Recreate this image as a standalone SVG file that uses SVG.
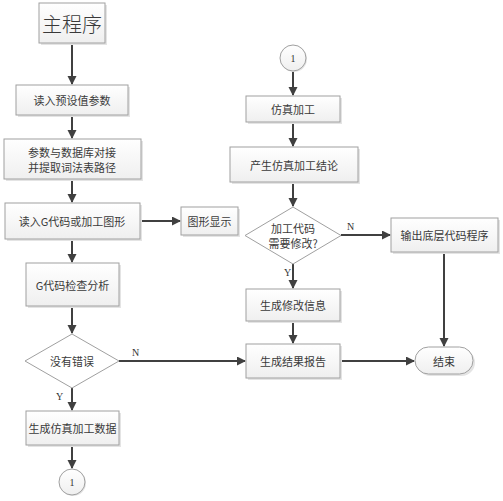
<svg xmlns="http://www.w3.org/2000/svg" width="503" height="501" viewBox="0 0 503 501">
<style>
.box{fill:url(#g);stroke:#a0a0a0;stroke-width:1}
.sh{fill:#e4e4e4}
.t{font-family:"Noto Sans CJK SC","Liberation Serif",serif;font-size:11px;fill:#3a3a3a;text-anchor:middle;dominant-baseline:central}
.lab{font-family:"Liberation Serif",serif;font-size:10px;fill:#333}
.c{stroke:#404040;stroke-width:2;fill:none;marker-end:url(#a)}
</style>
<defs>
<linearGradient id="g" x1="0" y1="0" x2="0" y2="1"><stop offset="0" stop-color="#ffffff"/><stop offset="1" stop-color="#efefef"/></linearGradient>
<marker id="a" markerWidth="10" markerHeight="10" refX="8" refY="4.5" orient="auto" markerUnits="userSpaceOnUse"><path d="M0,0 L9,4.5 L0,9 Z" fill="#404040"/></marker>
</defs>
<rect width="503" height="501" fill="#fff"/>
<g id="connectors">
<line class="c" x1="72" y1="43" x2="72" y2="84"/>
<line class="c" x1="72" y1="115" x2="72" y2="138"/>
<line class="c" x1="72" y1="179" x2="72" y2="202"/>
<line class="c" x1="140" y1="221" x2="180" y2="221"/>
<line class="c" x1="72" y1="239" x2="72" y2="262"/>
<line class="c" x1="72" y1="306" x2="72" y2="333"/>
<line class="c" x1="119" y1="361" x2="245" y2="361"/>
<line class="c" x1="72" y1="388" x2="72" y2="410"/>
<line class="c" x1="72" y1="445" x2="72" y2="468"/>
<line class="c" x1="293" y1="72" x2="293" y2="95"/>
<line class="c" x1="293" y1="122" x2="293" y2="146"/>
<line class="c" x1="293" y1="182" x2="293" y2="206"/>
<line class="c" x1="341" y1="235" x2="390" y2="235"/>
<line class="c" x1="293" y1="264" x2="293" y2="288"/>
<line class="c" x1="293" y1="321" x2="293" y2="343"/>
<line class="c" x1="340" y1="361" x2="414" y2="361"/>
<line class="c" x1="444" y1="252" x2="444" y2="346"/>
<text class="lab" x="132" y="356">N</text>
<text class="lab" x="56" y="400">Y</text>
<text class="lab" x="347" y="230">N</text>
<text class="lab" x="284" y="276">Y</text>
</g>
<g id="main">
<rect class="sh" x="41" y="5" width="66" height="40"/>
<rect class="box" x="39" y="3" width="66" height="40"/>
<text class="t" x="72" y="23" style="font-size:20px;font-weight:300">主程序</text>
</g>
<g id="read-preset">
<rect class="sh" x="18" y="87" width="112" height="30"/>
<rect class="box" x="16" y="85" width="112" height="30"/>
<text class="t" x="72" y="100">读入预设值参数</text>
</g>
<g id="db">
<rect class="sh" x="6" y="141" width="137" height="40"/>
<rect class="box" x="4" y="139" width="137" height="40"/>
<text class="t" x="72" y="152">参数与数据库对接</text>
<text class="t" x="72" y="167">并提取词法表路径</text>
</g>
<g id="readG">
<rect class="sh" x="7" y="205" width="135" height="36"/>
<rect class="box" x="5" y="203" width="135" height="36"/>
<text class="t" x="72" y="221">读入G代码或加工图形</text>
</g>
<g id="show">
<rect class="sh" x="183" y="209" width="57" height="28"/>
<rect class="box" x="181" y="207" width="57" height="28"/>
<text class="t" x="209.5" y="221">图形显示</text>
</g>
<g id="check">
<rect class="sh" x="28" y="265" width="93" height="43"/>
<rect class="box" x="26" y="263" width="93" height="43"/>
<text class="t" x="72.5" y="284.5">G代码检查分析</text>
</g>
<g id="noerr">
<polygon points="72,334 119,361 72,388 25,361" fill="#fff" stroke="#a0a0a0"/>
<text class="t" x="72" y="361">没有错误</text>
</g>
<g id="gendata">
<rect class="sh" x="28" y="413" width="93" height="34"/>
<rect class="box" x="26" y="411" width="93" height="34"/>
<text class="t" x="72.5" y="428">生成仿真加工数据</text>
</g>
<g id="c1a">
<circle cx="73" cy="483" r="13" fill="#e4e4e4"/>
<circle cx="72" cy="482" r="13" fill="url(#g)" stroke="#a0a0a0"/>
<text class="lab" x="72" y="482" text-anchor="middle" dominant-baseline="central">1</text>
</g>
<g id="c1b">
<circle cx="294" cy="59" r="13" fill="#e4e4e4"/>
<circle cx="293" cy="58" r="13" fill="url(#g)" stroke="#a0a0a0"/>
<text class="lab" x="293" y="58" text-anchor="middle" dominant-baseline="central">1</text>
</g>
<g id="sim">
<rect class="sh" x="248" y="98" width="94" height="26"/>
<rect class="box" x="246" y="96" width="94" height="26"/>
<text class="t" x="293" y="109">仿真加工</text>
</g>
<g id="concl">
<rect class="sh" x="232" y="149" width="128" height="35"/>
<rect class="box" x="230" y="147" width="128" height="35"/>
<text class="t" x="294" y="164.5">产生仿真加工结论</text>
</g>
<g id="modify">
<polygon points="293,207 341,235.5 293,264 245,235.5" fill="#fff" stroke="#a0a0a0"/>
<text class="t" x="293" y="228">加工代码</text>
<text class="t" x="293" y="243">需要修改?</text>
</g>
<g id="output">
<rect class="sh" x="393" y="220" width="107" height="34"/>
<rect class="box" x="391" y="218" width="107" height="34"/>
<text class="t" x="444.5" y="235">输出底层代码程序</text>
</g>
<g id="modinfo">
<rect class="sh" x="248" y="291" width="94" height="32"/>
<rect class="box" x="246" y="289" width="94" height="32"/>
<text class="t" x="293" y="305">生成修改信息</text>
</g>
<g id="report">
<rect class="sh" x="248" y="346" width="94" height="34"/>
<rect class="box" x="246" y="344" width="94" height="34"/>
<text class="t" x="293" y="361">生成结果报告</text>
</g>
<g id="end">
<rect class="sh" x="417" y="349" width="58" height="27" rx="13.5"/>
<rect class="box" x="415" y="347" width="58" height="27" rx="13.5"/>
<text class="t" x="444" y="360.5">结束</text>
</g>
</svg>
